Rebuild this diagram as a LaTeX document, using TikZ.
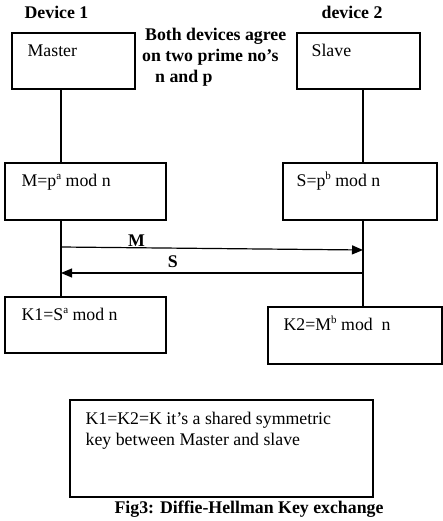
\documentclass[tikz,border=0pt]{standalone}
\usepackage{fontspec}
\setmainfont{Liberation Serif}
\usepackage{tikz}
\usetikzlibrary{positioning, arrows.meta, calc}

\newcommand{\supsm}[1]{\raisebox{0.42em}{\fontsize{11}{11}\selectfont #1}}

\begin{document}
\begin{tikzpicture}[x=1pt, y=-1pt, font=\fontsize{17.8}{21}\selectfont]
        \tikzstyle{box} = [rectangle, draw, line width=1.2pt, inner sep=0pt]
        \tikzstyle{txt} = [inner sep=0pt, anchor=base west]
        \tikzstyle{head} = [inner sep=0pt, anchor=base, font=\fontsize{17.8}{21}\selectfont\bfseries]
        \tikzstyle{life} = [line width=1.2pt]
        \tikzstyle{arrow} = [line width=1.2pt, -{Triangle[length=11pt, width=9pt]}]

        \useasboundingbox (0,0) rectangle (443,521);

        % devices
        \node [head] (dev1) at (56.5,19) {Device 1};
        \node [head] (dev2) at (352,19) {device 2};
        \node [box, minimum width=123pt, minimum height=56pt] (master) at (73.5,61) {};
        \node [txt] (mastertxt) at ($(master.north west)+(16,24.5)$) {Master};
        \node [box, minimum width=123pt, minimum height=56pt] (slave) at (358.5,61) {};
        \node [txt] (slavetxt) at ($(slave.north west)+(15,24.5)$) {Slave};
        \node [inner sep=0pt, anchor=north west, align=left, font=\fontsize{17.8}{21}\selectfont\bfseries] (agree) at (142,28)
            {\hspace*{3pt}Both devices agree\\on two prime no's\\\hspace*{13pt}n and p};

        % public values
        \node [box, minimum width=161pt, minimum height=57pt] (mbox) at (85.5,191.5) {};
        \node [txt] (mtxt) at ($(mbox.north west)+(17,24.5)$) {M=p\supsm{a} mod n};
        \node [box, minimum width=154pt, minimum height=57pt] (sbox) at (360,191.5) {};
        \node [txt] (stxt) at ($(sbox.north west)+(14,24.5)$) {S=p\supsm{b} mod n};

        % keys
        \node [box, minimum width=161pt, minimum height=56pt] (k1box) at (85.5,325) {};
        \node [txt] (k1txt) at ($(k1box.north west)+(17,24.5)$) {K1=S\supsm{a} mod n};
        \node [box, minimum width=174pt, minimum height=57pt] (k2box) at (355,335.5) {};
        \node [txt] (k2txt) at ($(k2box.north west)+(16,24.5)$) {K2=M\supsm{b} mod\ \ n};

        \node [box, minimum width=303pt, minimum height=97pt] (keybox) at (221.5,448.5) {};
        \node [inner sep=0pt, align=left, anchor=north west] (keytxt) at ($(keybox.north west)+(16,12.5)$)
            {K1=K2=K it's a shared symmetric\\key between Master and slave};

        \node [head] (caption) at (249,513) {Fig3: Diffie-Hellman Key exchange};

        % lifelines
        \coordinate (lifeL) at (61,0);
        \coordinate (lifeR) at (363,0);
        \draw [life] (master.south -| lifeL) -- (mbox.north -| lifeL);
        \draw [life] (mbox.south -| lifeL) -- (k1box.north -| lifeL);
        \draw [life] (slave.south -| lifeR) -- (sbox.north -| lifeR);
        \draw [life] (sbox.south -| lifeR) -- (k2box.north -| lifeR);

        % exchange
        \coordinate (msend) at (61,247);
        \coordinate (mrecv) at (363,250);
        \coordinate (ssend) at (363,273);
        \coordinate (srecv) at (61,273);
        \draw [arrow] (msend) -- (mrecv) node [pos=0.25, anchor=base, inner sep=0pt, yshift=1pt, font=\fontsize{17.8}{21}\selectfont\bfseries] (mlabel) {M};
        \draw [arrow] (ssend) -- (srecv) node [pos=0.63, anchor=base, inner sep=0pt, yshift=6pt, font=\fontsize{17.8}{21}\selectfont\bfseries] (slabel) {S};
    \end{tikzpicture}
\end{document}
